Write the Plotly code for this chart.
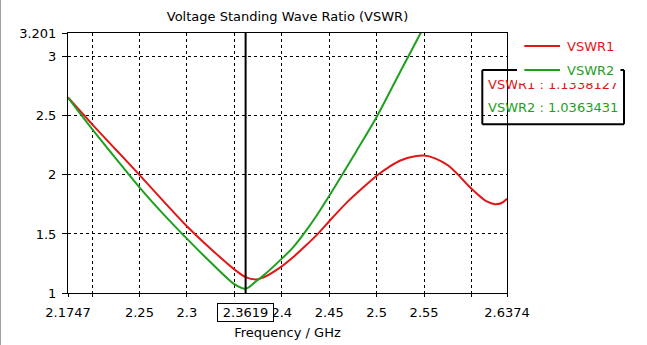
import plotly.graph_objects as go

# ---- data ----
freq1 = [2.1747, 2.2, 2.225, 2.25, 2.275, 2.3, 2.325, 2.35, 2.3619, 2.3729, 2.3803,
         2.3981, 2.4122, 2.4245, 2.4385, 2.4508, 2.4684, 2.486, 2.5017, 2.5125, 2.525,
         2.5404, 2.5502, 2.5615, 2.5755, 2.586, 2.5965, 2.607, 2.616, 2.6247, 2.6317,
         2.6374]
vswr1 = [2.655, 2.43, 2.215, 2.0, 1.78, 1.565, 1.375, 1.2, 1.134, 1.115, 1.13,
         1.215, 1.305, 1.395, 1.505, 1.614, 1.765, 1.895, 2.003, 2.064, 2.122,
         2.157, 2.163, 2.14, 2.079, 2.0, 1.91, 1.831, 1.775, 1.752, 1.762,
         1.797]
freq2 = [2.1747, 2.2, 2.225, 2.25, 2.275, 2.3, 2.325, 2.35, 2.3619, 2.3729, 2.3803,
         2.3981, 2.4122, 2.4245, 2.4368, 2.4491, 2.4632, 2.479, 2.5, 2.525, 2.5457, 2.555]
vswr2 = [2.655, 2.39, 2.14, 1.895, 1.67, 1.46, 1.26, 1.075, 1.036, 1.099, 1.145,
         1.276, 1.389, 1.515, 1.656, 1.811, 1.994, 2.205, 2.49, 2.875, 3.19, 3.33]

x_tickvals = [2.1747, 2.2, 2.25, 2.3, 2.35, 2.4, 2.45, 2.5, 2.55, 2.6, 2.6374]
x_ticktext = ["2.1747", "", "2.25", "2.3", "", "2.4", "2.45", "2.5", "2.55", "", "2.6374"]
y_tickvals = [1, 1.5, 2, 2.5, 3, 3.201]
y_ticktext = ["1", "1.5", "2", "2.5", "3", "3.201"]

marker_freq = 2.3619
marker_label = "2.3619"
marker_text1 = "VSWR1 : 1.1338127"
marker_text2 = "VSWR2 : 1.0363431"
names = ["VSWR1", "VSWR2"]

RED = "rgb(225,22,22)"
GREEN = "rgb(30,160,30)"
FONT = "DejaVu Sans"

W, H = 647, 345
L, R, T, B = 68, 140, 33, 52
PW, PH = W - L - R, H - T - B


def px(x):
    return (x - L) / PW


def py(y):
    return (H - B - y) / PH


fig = go.Figure()
fig.add_trace(go.Scatter(x=freq1, y=vswr1, mode="lines", name=names[0],
                         line=dict(color=RED, width=2, shape="spline", smoothing=0.8),
                         showlegend=False))
fig.add_trace(go.Scatter(x=freq2, y=vswr2, mode="lines", name=names[1],
                         line=dict(color=GREEN, width=2, shape="spline", smoothing=0.8),
                         showlegend=False))

shapes = []
# marker line
shapes.append(dict(type="line", xref="x", yref="paper", x0=marker_freq, x1=marker_freq,
                   y0=0, y1=1, line=dict(color="black", width=2), layer="above"))
# marker box
bx0, bx1, by0, by1 = 482.3, 624, 70, 124.3
for (x0, y0, x1, y1) in [(bx0, by0, bx0, by1), (bx0, by1, bx1, by1), (bx1, by0, bx1, by1),
                         (bx0, by0, 517, by0), (620.5, by0, bx1, by0)]:
    shapes.append(dict(type="line", xref="paper", yref="paper", x0=px(x0), x1=px(x1),
                       y0=py(y0), y1=py(y1), line=dict(color="black", width=2), layer="above"))
# legend sample lines
shapes.append(dict(type="line", xref="paper", yref="paper", x0=px(524.3), x1=px(560),
                   y0=py(46), y1=py(46), line=dict(color=RED, width=2), layer="above"))
shapes.append(dict(type="line", xref="paper", yref="paper", x0=px(524.3), x1=px(560),
                   y0=py(70), y1=py(70), line=dict(color=GREEN, width=2), layer="above"))
# left window edge
shapes.append(dict(type="line", xref="paper", yref="paper", x0=px(0.5), x1=px(0.5),
                   y0=py(345), y1=py(0), line=dict(color="#a0a0a0", width=1), layer="above"))

annotations = [
    dict(text=marker_text1, xref="paper", yref="paper", x=px(486), y=py(84),
         xanchor="left", yanchor="middle", showarrow=False,
         font=dict(family=FONT, size=13, color=RED)),
    dict(text=marker_text2, xref="paper", yref="paper", x=px(486), y=py(107),
         xanchor="left", yanchor="middle", showarrow=False,
         font=dict(family=FONT, size=13, color=GREEN)),
    # cover (legend background hiding top of marker text)
    dict(text=" ", xref="paper", yref="paper", x=px(517), y=py(71.5),
         xanchor="left", yanchor="top", showarrow=False, bgcolor="white",
         width=103, height=11, borderpad=0, borderwidth=0,
         font=dict(family=FONT, size=8, color="white")),
    dict(text=names[0], xref="paper", yref="paper", x=px(565), y=py(46),
         xanchor="left", yanchor="middle", showarrow=False,
         font=dict(family=FONT, size=13, color=RED)),
    dict(text=names[1], xref="paper", yref="paper", x=px(565), y=py(70),
         xanchor="left", yanchor="middle", showarrow=False,
         font=dict(family=FONT, size=13, color=GREEN)),
    dict(text=marker_label, xref="x", yref="paper", x=marker_freq, y=py(312),
         xanchor="center", yanchor="middle", showarrow=False,
         bordercolor="black", borderwidth=1, borderpad=1, bgcolor="white",
         width=53, height=15,
         font=dict(family=FONT, size=13, color="black")),
]

axis_common = dict(showline=True, mirror=True, linecolor="black", linewidth=1,
                   ticks="outside", tickcolor="black", tickwidth=1,
                   showgrid=True, gridcolor="black", gridwidth=1, griddash="3px,3px",
                   zeroline=False, automargin=False,
                   tickfont=dict(family=FONT, size=13, color="black"))

fig.update_layout(
    width=W, height=H,
    margin=dict(l=L, r=R, t=T, b=B, autoexpand=False),
    paper_bgcolor="white", plot_bgcolor="white",
    font=dict(family=FONT, size=13, color="black"),
    title=dict(text="Voltage Standing Wave Ratio (VSWR)", x=px(287.5), xref="paper",
               xanchor="center", y=1 - 16.5 / H, yref="container", yanchor="middle",
               font=dict(family=FONT, size=13, color="black")),
    xaxis=dict(range=[2.1747, 2.6374], tickvals=x_tickvals, ticktext=x_ticktext,
               ticklen=3, ticklabelstandoff=4,
               title=dict(text="Frequency / GHz", standoff=9,
                          font=dict(family=FONT, size=13, color="black")),
               **axis_common),
    yaxis=dict(range=[1, 3.201], tickvals=y_tickvals, ticktext=y_ticktext,
               ticklen=5, ticklabelstandoff=3, **axis_common),
    shapes=shapes, annotations=annotations, showlegend=False,
)

fig.write_html("out.html")
